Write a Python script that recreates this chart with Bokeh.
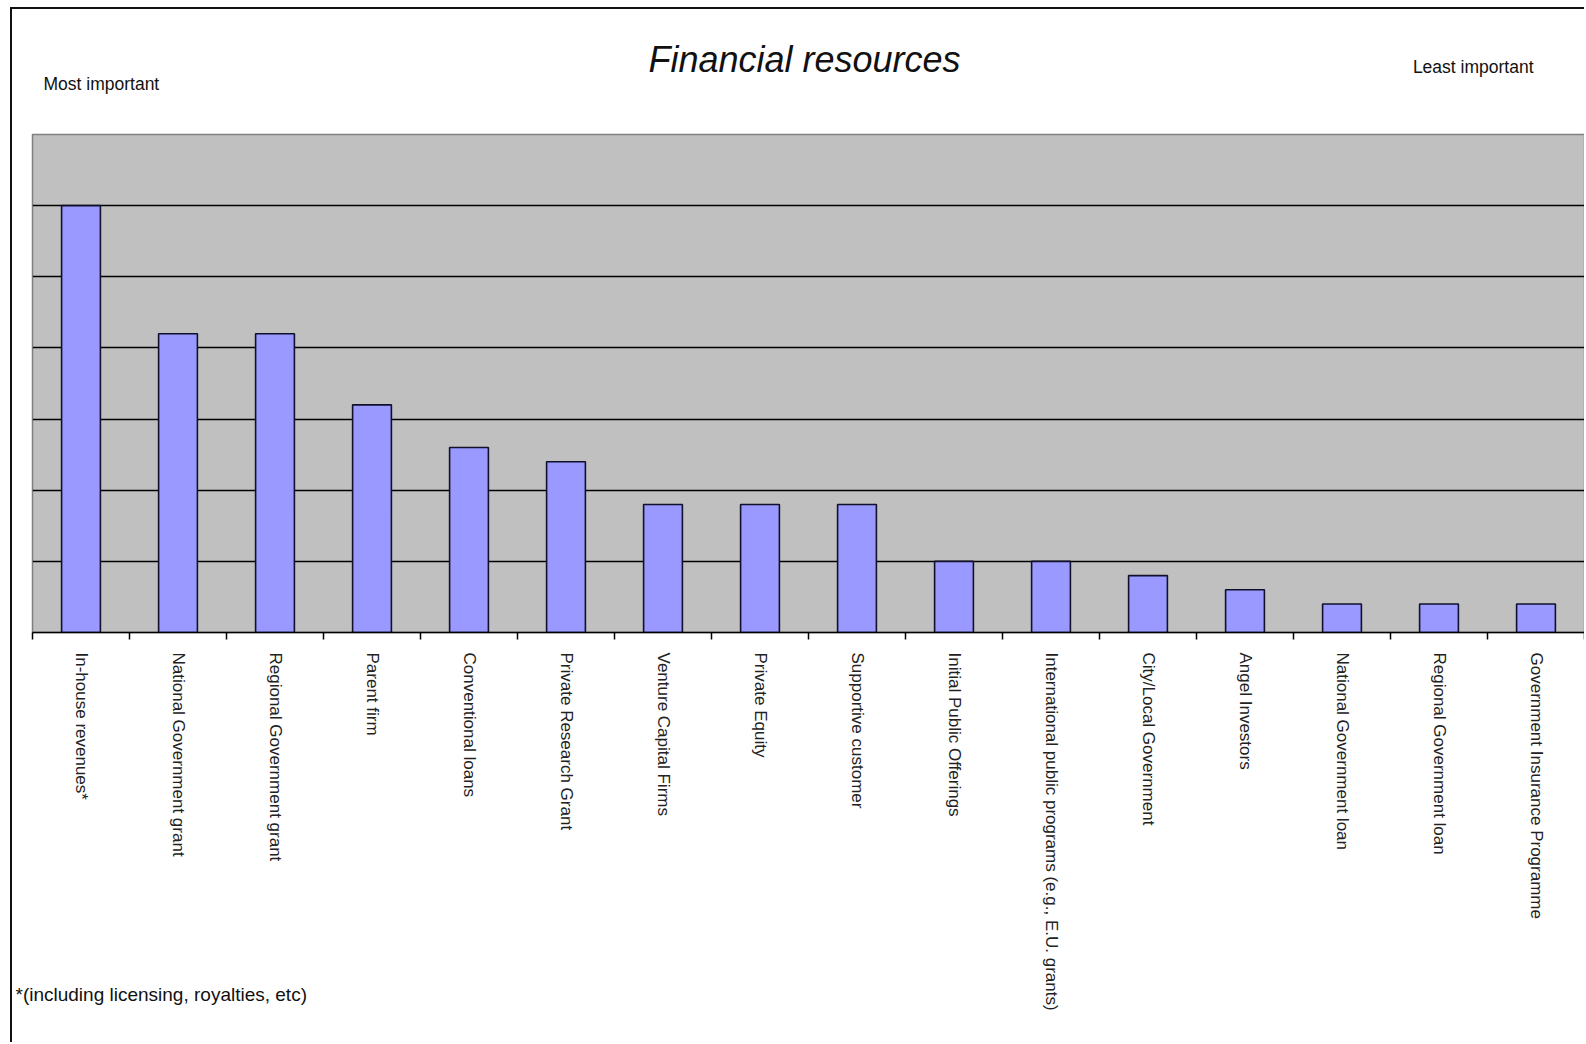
from bokeh.plotting import figure
from bokeh.models import ColumnDataSource, Range1d, FixedTicker, Grid, Label
from bokeh.embed import file_html
from bokeh.resources import INLINE

# ---- data ----
categories = [
    "In-house revenues*",
    "National Government grant",
    "Regional Government grant",
    "Parent firm",
    "Conventional loans",
    "Private Research Grant",
    "Venture Capital Firms",
    "Private Equity",
    "Supportive customer",
    "Initial Public Offerings",
    "International public programs (e.g., E.U. grants)",
    "City/Local Government",
    "Angel Investors",
    "National Government loan",
    "Regional Government loan",
    "Government Insurance Programme",
]
values = [30, 21, 21, 16, 13, 12, 9, 9, 9, 5, 5, 4, 3, 2, 2, 2]
grid_ticks = [5, 10, 15, 20, 25, 30]
y_max = 35

title_text = "Financial resources"
left_note = "Most important"
right_note = "Least important"
footnote = "*(including licensing, royalties, etc)"

n = len(categories)
idx = list(range(n))
source = ColumnDataSource(dict(x=idx, value=values, label=categories))

p = figure(
    width=1574, height=1035,
    x_range=Range1d(-0.5, n - 0.5), y_range=Range1d(0, y_max),
    output_backend="svg", toolbar_location=None,
    y_axis_location=None,
    min_border_left=20, min_border_right=2, min_border_top=125, min_border_bottom=412,
    background_fill_color="#C0C0C0", border_fill_color="white",
)
p.margin = (7, 0, 0, 10)
p.styles = {"border-top": "2px solid #111", "border-left": "2px solid #111"}

p.xgrid.grid_line_color = None
grid = Grid(dimension=1, ticker=FixedTicker(ticks=grid_ticks),
            grid_line_color="black", grid_line_width=1.3)
p.add_layout(grid)

p.vbar(x="x", top="value", bottom=0, width=0.4, source=source,
       fill_color="#9999FF", line_color="#10102a", line_width=1.6)

ax = p.xaxis[0]
ax.ticker = FixedTicker(ticks=idx, minor_ticks=[i - 0.5 for i in range(n + 1)])
ax.major_label_overrides = {i: c for i, c in enumerate(categories)}
ax.major_label_orientation = "vertical"
ax.major_tick_line_color = None
ax.major_tick_out = 0
ax.major_tick_in = 0
ax.minor_tick_out = 7
ax.minor_tick_in = 0
ax.minor_tick_line_color = "black"
ax.minor_tick_line_width = 1.5
ax.axis_line_color = "black"
ax.axis_line_width = 1.5
ax.major_label_standoff = 13
ax.major_label_text_font = "Liberation Sans"
ax.major_label_text_font_size = "17px"
ax.major_label_text_color = "#222222"

p.outline_line_color = "#808080"
p.outline_line_width = 1.5

# page-pixel -> data coordinate helpers for the free texts
def dx(px):
    return (px - 32) / 97.0 - 0.5

def dy(py):
    return (632 - py) / (498.0 / y_max)

def txt(px, py, text, align, size, style="normal"):
    return Label(x=dx(px), y=dy(py), text=text,
                 text_align=align, text_baseline="middle",
                 text_font="Liberation Sans", text_font_style=style,
                 text_font_size=size, text_color="#111111")

# placed in side panels so that they are not clipped to the plot frame
p.add_layout(txt(804, 59, title_text, "center", "36px", "italic"), "above")
p.add_layout(txt(43, 83, left_note, "left", "17.5px"), "above")
p.add_layout(txt(1533, 66, right_note, "right", "17.5px"), "above")
p.add_layout(txt(15, 994, footnote, "left", "19px"), "below")

open("out.html", "w").write(file_html(p, INLINE))
